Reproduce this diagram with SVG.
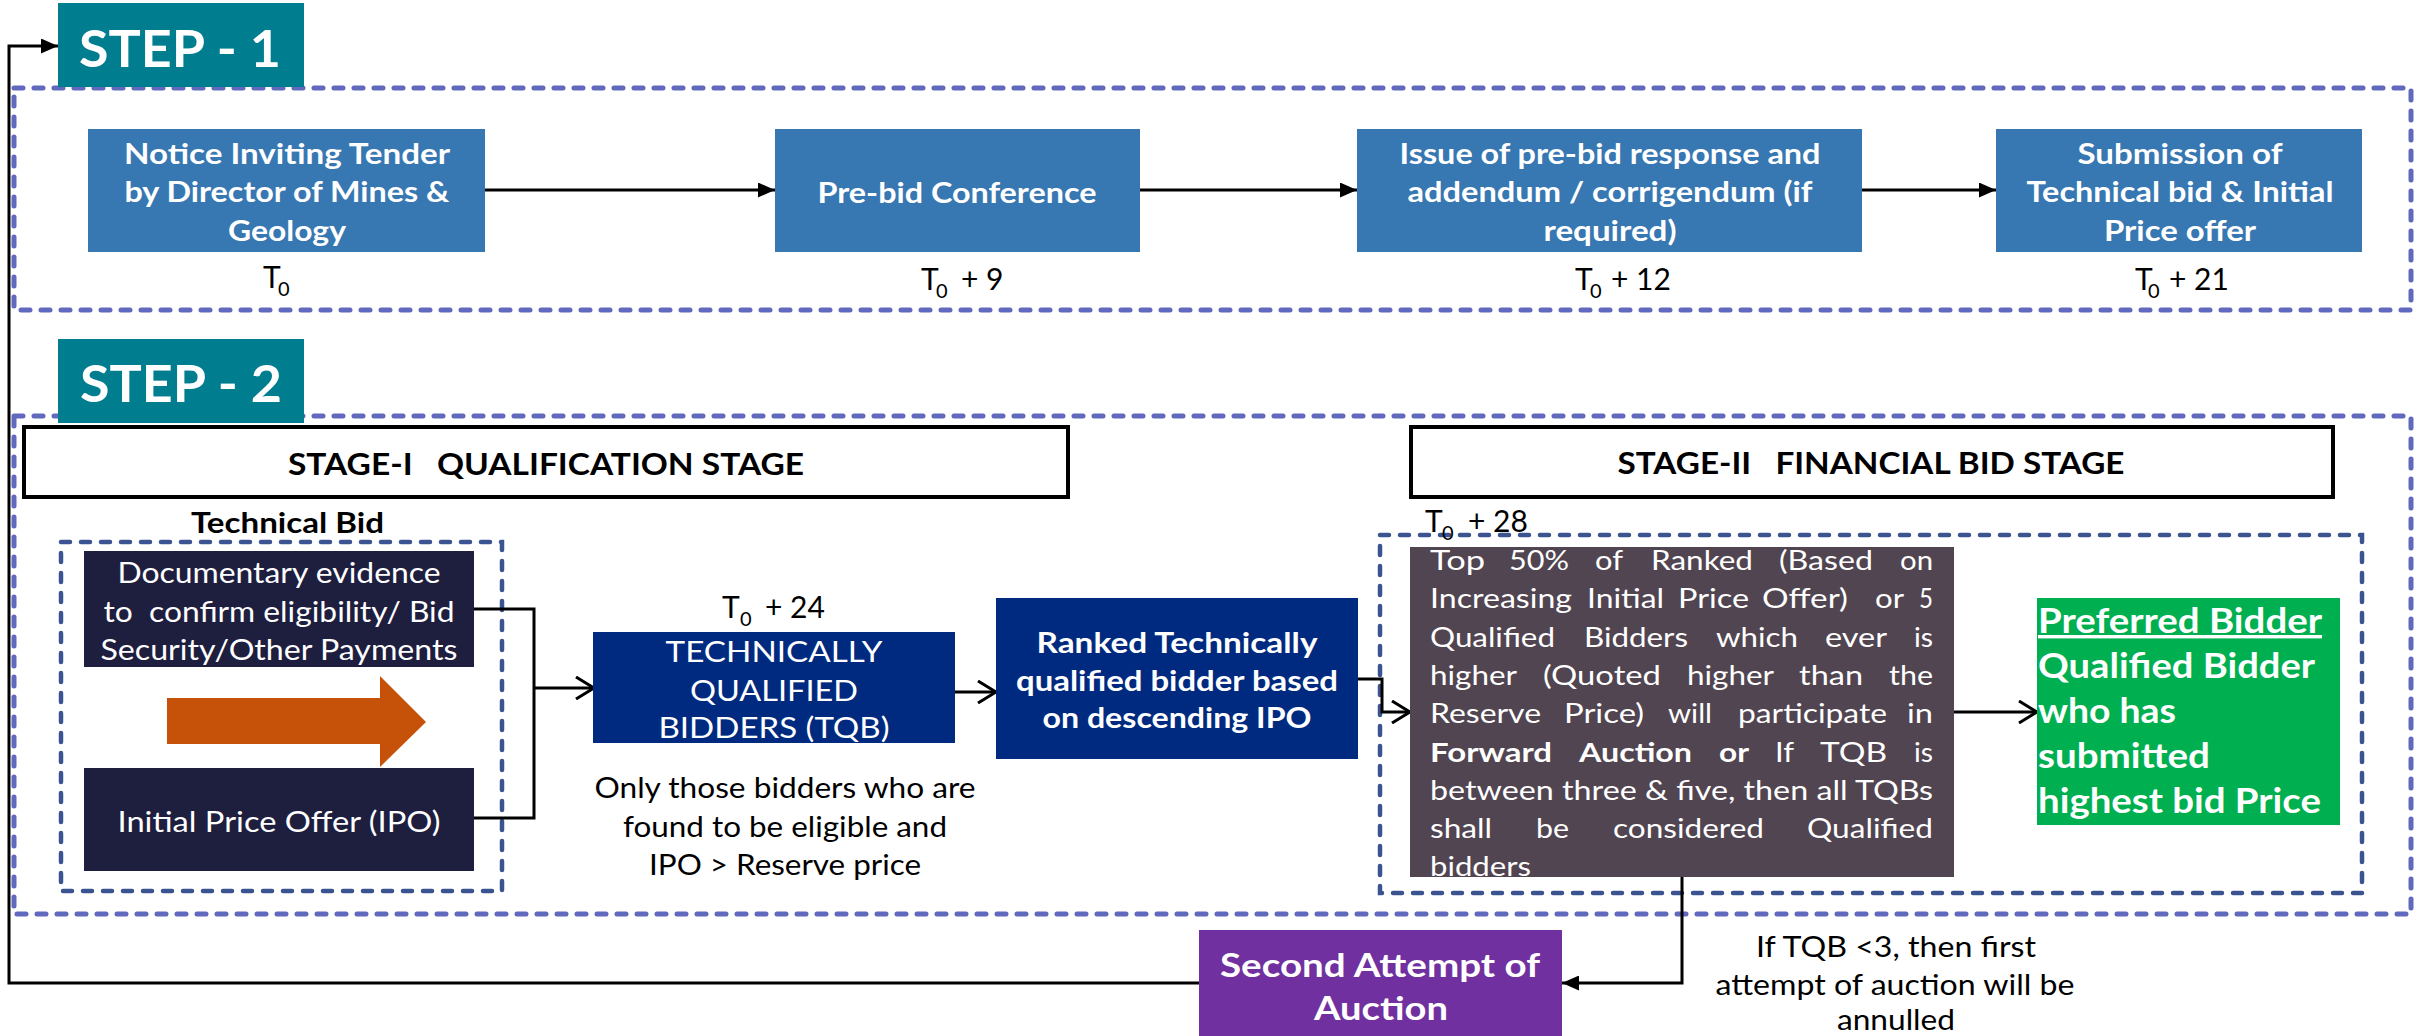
<svg xmlns="http://www.w3.org/2000/svg" width="2422" height="1036" viewBox="0 0 2422 1036">
<defs>
<style>
text{font-family:Lato,'Liberation Sans',sans-serif;fill:#000}
.w{fill:#fff}
.b{font-weight:700}
.c{text-anchor:middle}
.outer{fill:none;stroke:#6169BF;stroke-width:5;stroke-dasharray:9 11;stroke-linecap:round}
.inner{fill:none;stroke:#3B5491;stroke-width:4.5;stroke-dasharray:9 11;stroke-linecap:round}
.con{fill:none;stroke:#000;stroke-width:3}
.s1{fill:#3777B2}
.teal{fill:#007E8F}
.navy{fill:#1E1E3F}
.blue{fill:#002A7F}
.stage{fill:#fff;stroke:#000;stroke-width:4}
.f28{font-size:28px}
.f30{font-size:30px}
.t{font-size:30px}
.sub{font-size:20px}
.tp{font-size:27px;fill:#fff}
</style>
<marker id="af" viewBox="0 0 17 15" refX="17" refY="7.5" markerWidth="17" markerHeight="15" markerUnits="userSpaceOnUse" orient="auto"><path d="M0,0L17,7.5L0,15z" fill="#000"/></marker>
<marker id="ao" viewBox="0 0 22 24" refX="20" refY="12" markerWidth="22" markerHeight="24" markerUnits="userSpaceOnUse" orient="auto"><path d="M2,1L20,12L2,23" fill="none" stroke="#000" stroke-width="3"/></marker>
<clipPath id="cTop"><rect x="1410" y="547" width="544" height="330"/></clipPath>
</defs>

<g id="containers">
<rect class="outer" x="14" y="88" width="2397" height="222"/>
<rect class="outer" x="14" y="416" width="2397" height="498"/>
<rect class="inner" x="61" y="542" width="441" height="349"/>
<rect class="inner" x="1380" y="535" width="982" height="358"/>
</g>

<g id="step1">
<rect class="teal" x="58" y="3" width="246" height="84"/>
<text class="w b" x="79" y="67" font-size="52" textLength="202" lengthAdjust="spacingAndGlyphs">STEP - 1</text>
</g>
<g id="step2">
<rect class="teal" x="58" y="339" width="246" height="84"/>
<text class="w b" x="80" y="402" font-size="52" textLength="202" lengthAdjust="spacingAndGlyphs">STEP - 2</text>
</g>

<g id="connectors">
<line class="con" x1="485" y1="190" x2="775" y2="190" marker-end="url(#af)"/>
<line class="con" x1="1140" y1="190" x2="1357" y2="190" marker-end="url(#af)"/>
<line class="con" x1="1862" y1="190" x2="1996" y2="190" marker-end="url(#af)"/>
<path class="con" d="M1199,983H9V46H58" marker-end="url(#af)"/>
<path class="con" d="M1682,877V983H1562" marker-end="url(#af)"/>
<path class="con" d="M474,609H534V818H474"/>
<path class="con" d="M534,688H594" marker-end="url(#ao)"/>
<path class="con" d="M955,692H996" marker-end="url(#ao)"/>
<path class="con" d="M1358,679H1382V712H1410" marker-end="url(#ao)"/>
<path class="con" d="M1954,712H2037" marker-end="url(#ao)"/>
</g>

<g id="notice">
<rect class="s1" x="88" y="129" width="397" height="123"/>
<text class="w b f28 c" x="287" y="164" textLength="326" lengthAdjust="spacingAndGlyphs">Notice Inviting Tender</text>
<text class="w b f28 c" x="287" y="202" textLength="325" lengthAdjust="spacingAndGlyphs">by Director of Mines &amp;</text>
<text class="w b f28 c" x="287" y="241" textLength="118" lengthAdjust="spacingAndGlyphs">Geology</text>
</g>
<g id="prebid">
<rect class="s1" x="775" y="129" width="365" height="123"/>
<text class="w b f28 c" x="957" y="203" textLength="279" lengthAdjust="spacingAndGlyphs">Pre-bid Conference</text>
</g>
<g id="issue">
<rect class="s1" x="1357" y="129" width="505" height="123"/>
<text class="w b f28 c" x="1610" y="164" textLength="421" lengthAdjust="spacingAndGlyphs">Issue of pre-bid response and</text>
<text class="w b f28 c" x="1610" y="202" textLength="405" lengthAdjust="spacingAndGlyphs">addendum / corrigendum (if</text>
<text class="w b f28 c" x="1610" y="241" textLength="133" lengthAdjust="spacingAndGlyphs">required)</text>
</g>
<g id="submission">
<rect class="s1" x="1996" y="129" width="366" height="123"/>
<text class="w b f28 c" x="2180" y="164" textLength="205" lengthAdjust="spacingAndGlyphs">Submission of</text>
<text class="w b f28 c" x="2180" y="202" textLength="307" lengthAdjust="spacingAndGlyphs">Technical bid &amp; Initial</text>
<text class="w b f28 c" x="2180" y="241" textLength="152" lengthAdjust="spacingAndGlyphs">Price offer</text>
</g>

<g id="timelabels">
<text class="t" x="263" y="288">T</text><text class="sub" x="278" y="296">0</text>
<text class="t" x="921" y="290">T</text><text class="sub" x="936" y="298">0</text><text class="t" x="961" y="290">+ 9</text>
<text class="t" x="1575" y="290">T</text><text class="sub" x="1590" y="298">0</text><text class="t" x="1611" y="290">+ 12</text>
<text class="t" x="2135" y="290">T</text><text class="sub" x="2148" y="298">0</text><text class="t" x="2169" y="290">+ 21</text>
<text class="t" x="722" y="618">T</text><text class="sub" x="740" y="626">0</text><text class="t" x="765" y="618">+ 24</text>
<text class="t" x="1425" y="532">T</text><text class="sub" x="1442" y="540">0</text><text class="t" x="1468" y="532">+ 28</text>
</g>

<g id="stage1">
<rect class="stage" x="24" y="427" width="1044" height="70"/>
<text class="b f30 c" x="546" y="475" textLength="516" lengthAdjust="spacingAndGlyphs" xml:space="preserve">STAGE-I   QUALIFICATION STAGE</text>
</g>
<g id="stage2">
<rect class="stage" x="1411" y="427" width="922" height="70"/>
<text class="b f30 c" x="1871" y="474" textLength="507" lengthAdjust="spacingAndGlyphs" xml:space="preserve">STAGE-II   FINANCIAL BID STAGE</text>
</g>

<g id="technicalbid">
<text class="b f28" x="191" y="533" textLength="193" lengthAdjust="spacingAndGlyphs">Technical Bid</text>
</g>
<g id="documentary">
<rect class="navy" x="84" y="551" width="390" height="116"/>
<text class="w f28 c" x="279" y="583" textLength="323" lengthAdjust="spacingAndGlyphs">Documentary evidence</text>
<text class="w f28 c" x="279" y="622" textLength="351" lengthAdjust="spacingAndGlyphs" xml:space="preserve">to  confirm eligibility/ Bid</text>
<text class="w f28 c" x="279" y="660" textLength="357" lengthAdjust="spacingAndGlyphs">Security/Other Payments</text>
</g>
<g id="orangearrow">
<path d="M167,698H380V676L426,722L380,767V744H167z" fill="#C65108"/>
</g>
<g id="ipo">
<rect class="navy" x="84" y="768" width="390" height="103"/>
<text class="w f28 c" x="279" y="832" textLength="323" lengthAdjust="spacingAndGlyphs">Initial Price Offer (IPO)</text>
</g>

<g id="tqb">
<rect class="blue" x="593" y="632" width="362" height="111"/>
<text class="w f28 c" x="774" y="662" textLength="217" lengthAdjust="spacingAndGlyphs">TECHNICALLY</text>
<text class="w f28 c" x="774" y="701" textLength="168" lengthAdjust="spacingAndGlyphs">QUALIFIED</text>
<text class="w f28 c" x="774" y="738" textLength="231" lengthAdjust="spacingAndGlyphs">BIDDERS (TQB)</text>
</g>
<g id="onlythose">
<text class="f28 c" x="785" y="798" textLength="381" lengthAdjust="spacingAndGlyphs">Only those bidders who are</text>
<text class="f28 c" x="785" y="837" textLength="324" lengthAdjust="spacingAndGlyphs">found to be eligible and</text>
<text class="f28 c" x="785" y="875" textLength="272" lengthAdjust="spacingAndGlyphs">IPO &gt; Reserve price</text>
</g>

<g id="ranked">
<rect class="blue" x="996" y="598" width="362" height="161"/>
<text class="w b f28 c" x="1177" y="653" textLength="281" lengthAdjust="spacingAndGlyphs">Ranked Technically</text>
<text class="w b f28 c" x="1177" y="691" textLength="322" lengthAdjust="spacingAndGlyphs">qualified bidder based</text>
<text class="w b f28 c" x="1177" y="728" textLength="269" lengthAdjust="spacingAndGlyphs">on descending IPO</text>
</g>

<g id="top50">
<rect x="1410" y="547" width="544" height="330" fill="#514551"/>
<g clip-path="url(#cTop)">
<text class="tp" x="1430" y="570" textLength="55" lengthAdjust="spacingAndGlyphs">Top</text>
<text class="tp" x="1509" y="570" textLength="60" lengthAdjust="spacingAndGlyphs">50%</text>
<text class="tp" x="1595" y="570" textLength="28" lengthAdjust="spacingAndGlyphs">of</text>
<text class="tp" x="1651" y="570" textLength="102" lengthAdjust="spacingAndGlyphs">Ranked</text>
<text class="tp" x="1779" y="570" textLength="94" lengthAdjust="spacingAndGlyphs">(Based</text>
<text class="tp" x="1900" y="570" textLength="33" lengthAdjust="spacingAndGlyphs">on</text>

<text class="tp" x="1430" y="608" textLength="142" lengthAdjust="spacingAndGlyphs">Increasing</text>
<text class="tp" x="1587" y="608" textLength="77" lengthAdjust="spacingAndGlyphs">Initial</text>
<text class="tp" x="1678" y="608" textLength="71" lengthAdjust="spacingAndGlyphs">Price</text>
<text class="tp" x="1762" y="608" textLength="86" lengthAdjust="spacingAndGlyphs">Offer)</text>
<text class="tp" x="1875" y="608" textLength="29" lengthAdjust="spacingAndGlyphs">or</text>
<text class="tp" x="1919" y="608" textLength="14" lengthAdjust="spacingAndGlyphs">5</text>

<text class="tp" x="1430" y="647" textLength="125" lengthAdjust="spacingAndGlyphs">Qualified</text>
<text class="tp" x="1584" y="647" textLength="104" lengthAdjust="spacingAndGlyphs">Bidders</text>
<text class="tp" x="1716" y="647" textLength="82" lengthAdjust="spacingAndGlyphs">which</text>
<text class="tp" x="1825" y="647" textLength="62" lengthAdjust="spacingAndGlyphs">ever</text>
<text class="tp" x="1914" y="647" textLength="19" lengthAdjust="spacingAndGlyphs">is</text>

<text class="tp" x="1430" y="685" textLength="87" lengthAdjust="spacingAndGlyphs">higher</text>
<text class="tp" x="1543" y="685" textLength="118" lengthAdjust="spacingAndGlyphs">(Quoted</text>
<text class="tp" x="1687" y="685" textLength="87" lengthAdjust="spacingAndGlyphs">higher</text>
<text class="tp" x="1799" y="685" textLength="64" lengthAdjust="spacingAndGlyphs">than</text>
<text class="tp" x="1889" y="685" textLength="44" lengthAdjust="spacingAndGlyphs">the</text>

<text class="tp" x="1430" y="723" textLength="111" lengthAdjust="spacingAndGlyphs">Reserve</text>
<text class="tp" x="1564" y="723" textLength="80" lengthAdjust="spacingAndGlyphs">Price)</text>
<text class="tp" x="1668" y="723" textLength="44" lengthAdjust="spacingAndGlyphs">will</text>
<text class="tp" x="1738" y="723" textLength="149" lengthAdjust="spacingAndGlyphs">participate</text>
<text class="tp" x="1907" y="723" textLength="26" lengthAdjust="spacingAndGlyphs">in</text>

<text class="tp b" x="1430" y="762" textLength="122" lengthAdjust="spacingAndGlyphs">Forward</text>
<text class="tp b" x="1579" y="762" textLength="113" lengthAdjust="spacingAndGlyphs">Auction</text>
<text class="tp b" x="1719" y="762" textLength="30" lengthAdjust="spacingAndGlyphs">or</text>
<text class="tp" x="1775" y="762" textLength="19" lengthAdjust="spacingAndGlyphs">If</text>
<text class="tp" x="1820" y="762" textLength="67" lengthAdjust="spacingAndGlyphs">TQB</text>
<text class="tp" x="1914" y="762" textLength="19" lengthAdjust="spacingAndGlyphs">is</text>

<text class="tp" x="1430" y="800" textLength="503" lengthAdjust="spacingAndGlyphs">between three &amp; five, then all TQBs</text>

<text class="tp" x="1430" y="838" textLength="62" lengthAdjust="spacingAndGlyphs">shall</text>
<text class="tp" x="1536" y="838" textLength="33" lengthAdjust="spacingAndGlyphs">be</text>
<text class="tp" x="1613" y="838" textLength="151" lengthAdjust="spacingAndGlyphs">considered</text>
<text class="tp" x="1807" y="838" textLength="126" lengthAdjust="spacingAndGlyphs">Qualified</text>

<text class="tp" x="1430" y="876" textLength="101" lengthAdjust="spacingAndGlyphs">bidders</text>
</g>
</g>

<g id="preferred">
<rect x="2037" y="598" width="303" height="227" fill="#00B050"/>
<text class="w b" x="2038" y="633" font-size="34" textLength="284" lengthAdjust="spacingAndGlyphs" text-decoration="underline">Preferred Bidder</text>
<text class="w b" x="2038" y="678" font-size="34" textLength="277" lengthAdjust="spacingAndGlyphs">Qualified Bidder</text>
<text class="w b" x="2038" y="723" font-size="34" textLength="138" lengthAdjust="spacingAndGlyphs">who has</text>
<text class="w b" x="2038" y="768" font-size="34" textLength="172" lengthAdjust="spacingAndGlyphs">submitted</text>
<text class="w b" x="2038" y="813" font-size="34" textLength="283" lengthAdjust="spacingAndGlyphs">highest bid Price</text>
</g>

<g id="secondattempt">
<rect x="1199" y="930" width="363" height="106" fill="#7030A0"/>
<text class="w b c" x="1380" y="977" font-size="33" textLength="320" lengthAdjust="spacingAndGlyphs">Second Attempt of</text>
<text class="w b c" x="1381" y="1020" font-size="33" textLength="134" lengthAdjust="spacingAndGlyphs">Auction</text>
</g>

<g id="annulnote">
<text class="f28 c" x="1896" y="957" textLength="280" lengthAdjust="spacingAndGlyphs">If TQB &lt;3, then first</text>
<text class="f28 c" x="1895" y="995" textLength="359" lengthAdjust="spacingAndGlyphs">attempt of auction will be</text>
<text class="f28 c" x="1896" y="1030" textLength="118" lengthAdjust="spacingAndGlyphs">annulled</text>
</g>
</svg>
